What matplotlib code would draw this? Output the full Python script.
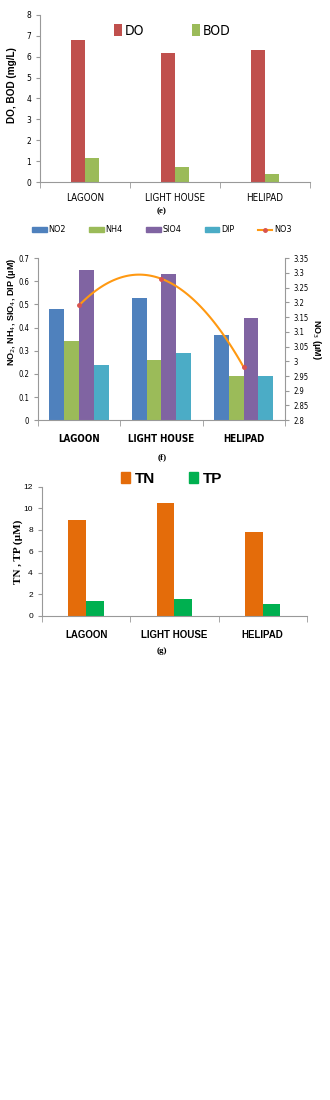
import numpy as np
import matplotlib.pyplot as plt
from matplotlib import font_manager
from matplotlib.lines import Line2D
from matplotlib.patches import Patch

sites = ["LAGOON", "LIGHT HOUSE", "HELIPAD"]

# panel (e)
do_vals = [6.8, 6.17, 6.3]
bod_vals = [1.15, 0.7, 0.38]

# panel (f)
no2 = [0.48, 0.53, 0.37]
nh4 = [0.34, 0.26, 0.19]
sio4 = [0.65, 0.63, 0.44]
dip = [0.24, 0.29, 0.19]
no3 = [3.19, 3.28, 2.98]

# panel (g)
tn = [8.9, 10.5, 7.8]
tp = [1.35, 1.55, 1.1]

plt.rcParams['font.family'] = ["Liberation Sans", "DejaVu Sans"]

# narrow font for the Excel-like tick text
names = {f.name for f in font_manager.fontManager.ttflist}
if "Liberation Sans Narrow" in names:
    NARROW = dict(family="Liberation Sans Narrow")
else:
    NARROW = dict(family="DejaVu Sans", stretch="condensed")

fig = plt.figure(figsize=(3.3, 11), dpi=100)
x = np.arange(len(sites))


def excel_axes(ax, ymax, ystep):
    ax.spines['top'].set_visible(False)
    ax.spines['right'].set_visible(False)
    for s in ['left', 'bottom']:
        ax.spines[s].set_color('#999999')
        ax.spines[s].set_linewidth(0.8)
    ax.set_xlim(-0.5, 2.5)
    ax.set_ylim(0, ymax)
    ax.set_yticks(np.arange(0, ymax + ystep / 2, ystep))
    ax.set_xticks(x)
    ax.set_xticks([-0.5, 0.5, 1.5, 2.5], minor=True)
    ax.tick_params(axis='x', which='major', length=0)
    ax.tick_params(axis='x', which='minor', length=4, color='#999999')
    ax.tick_params(axis='y', length=3, color='#999999', labelsize=6)


# ---- (e)
ax1 = fig.add_axes([0.121, 0.8345, 0.818, 0.152])
w = 0.155
ax1.bar(x - w / 2, do_vals, w, color='#C0504D', label='DO')
ax1.bar(x + w / 2, bod_vals, w, color='#9BBB59', label='BOD')
excel_axes(ax1, 8, 1)
ax1.set_yticklabels([str(v) for v in range(9)], fontsize=6, **NARROW)
ax1.set_xticklabels(sites, fontsize=7, **NARROW)
ax1.tick_params(axis='x', pad=8)
ax1.set_ylabel("DO, BOD (mg/L)", fontsize=7.2, fontweight='bold')
ax1.yaxis.set_label_coords(-0.085, 0.58)
ax1.legend(loc='upper center', bbox_to_anchor=(0.49, 1.02), ncol=2, frameon=False,
           prop={'size': 10, **NARROW}, handlelength=0.6, handleheight=0.9,
           columnspacing=3.4, handletextpad=0.2)
fig.text(0.49, 1 - 211 / 1100, "(e)", fontsize=6.5, ha='center', va='center',
         fontweight='bold', family=["Liberation Serif"])

# ---- (f)
ax2 = fig.add_axes([0.115, 0.618, 0.748, 0.1473])
w = 0.18
ax2.bar(x - 1.5 * w, no2, w, color='#4F81BD', label='NO2')
ax2.bar(x - 0.5 * w, nh4, w, color='#9BBB59', label='NH4')
ax2.bar(x + 0.5 * w, sio4, w, color='#8064A2', label='SIO4')
ax2.bar(x + 1.5 * w, dip, w, color='#4BACC6', label='DIP')
excel_axes(ax2, 0.7, 0.1)
ax2.set_yticklabels([f"{v:g}" for v in np.arange(0, 0.75, 0.1).round(1)],
                    fontsize=5.5, **NARROW)
ax2.set_xticklabels(sites, fontsize=7, fontweight='bold', **NARROW)
ax2.tick_params(axis='x', pad=10)
ax2.set_ylabel("NO$_2$, NH$_4$, SIO$_4$, DIP (\u03bcM)", fontsize=6.5,
               fontweight='bold')
ax2.yaxis.set_label_coords(-0.08, 0.67)
ax3 = ax2.twinx()
ax3.set_ylim(2.8, 3.35)
ax3.set_yticks(np.arange(2.8, 3.36, 0.05))
ax3.set_yticklabels([f"{v:g}" for v in np.arange(2.8, 3.36, 0.05).round(2)],
                    fontsize=5.5, **NARROW)
ax3.tick_params(axis='y', length=3, color='#999999')
for s in ['top', 'left', 'bottom']:
    ax3.spines[s].set_visible(False)
ax3.spines['right'].set_color('#999999')
ax3.spines['right'].set_linewidth(0.8)
# smooth curve through the three points (quadratic through them)
coef = np.polyfit(x, no3, 2)
xs = np.linspace(0, 2, 100)
ax3.plot(xs, np.polyval(coef, xs), color='#FF9912', lw=1.5, zorder=3)
ax3.plot(x, no3, 'o', color='#D9534F', ms=2.5, zorder=4)
ax3.set_ylabel("NO$_3$ (\u03bcM)", fontsize=6.5, fontweight='bold', rotation=270,
               labelpad=10)
handles = [Patch(color='#4F81BD'), Patch(color='#9BBB59'), Patch(color='#8064A2'),
           Patch(color='#4BACC6'),
           Line2D([], [], color='#FF9912', lw=1.5, marker='o', ms=2.5,
                  markerfacecolor='#D9534F', markeredgecolor='#D9534F')]
fig.legend(handles, ['NO2', 'NH4', 'SIO4', 'DIP', 'NO3'],
           loc='center', bbox_to_anchor=(0.49, 1 - 230 / 1100), ncol=5,
           frameon=False, prop={'size': 6.5, **NARROW},
           handlelength=1.6, handleheight=0.4, columnspacing=2.6,
           handletextpad=0.2)
fig.text(0.49, 1 - 457 / 1100, "(f)", fontsize=6.5, ha='center', va='center',
         fontweight='bold', family=["Liberation Serif"])

# ---- (g)
ax4 = fig.add_axes([0.127, 0.44, 0.803, 0.1173])
w = 0.2
ax4.bar(x - w / 2, tn, w, color='#E46C0A', label='TN')
ax4.bar(x + w / 2, tp, w, color='#00B050', label='TP')
excel_axes(ax4, 12, 2)
ax4.set_xticklabels(sites, fontsize=7, fontweight='bold')
ax4.tick_params(axis='x', pad=10)
ax4.set_ylabel("TN , TP (\u00b5M)", fontsize=8, fontweight='bold',
               family=["Liberation Serif"])
ax4.yaxis.set_label_coords(-0.07, 0.5)
fig.legend(handles=[Patch(color='#E46C0A'), Patch(color='#00B050')],
           labels=['TN', 'TP'], loc='center', bbox_to_anchor=(0.52, 1 - 479 / 1100),
           ncol=2, frameon=False, prop={'size': 11, 'weight': 'bold'},
           handlelength=0.6, handleheight=0.7, columnspacing=2.2,
           handletextpad=0.3)
fig.text(0.49, 1 - 651 / 1100, "(g)", fontsize=6.5, ha='center', va='center',
         fontweight='bold', family=["Liberation Serif"])

fig.savefig("out.png", dpi=100)
